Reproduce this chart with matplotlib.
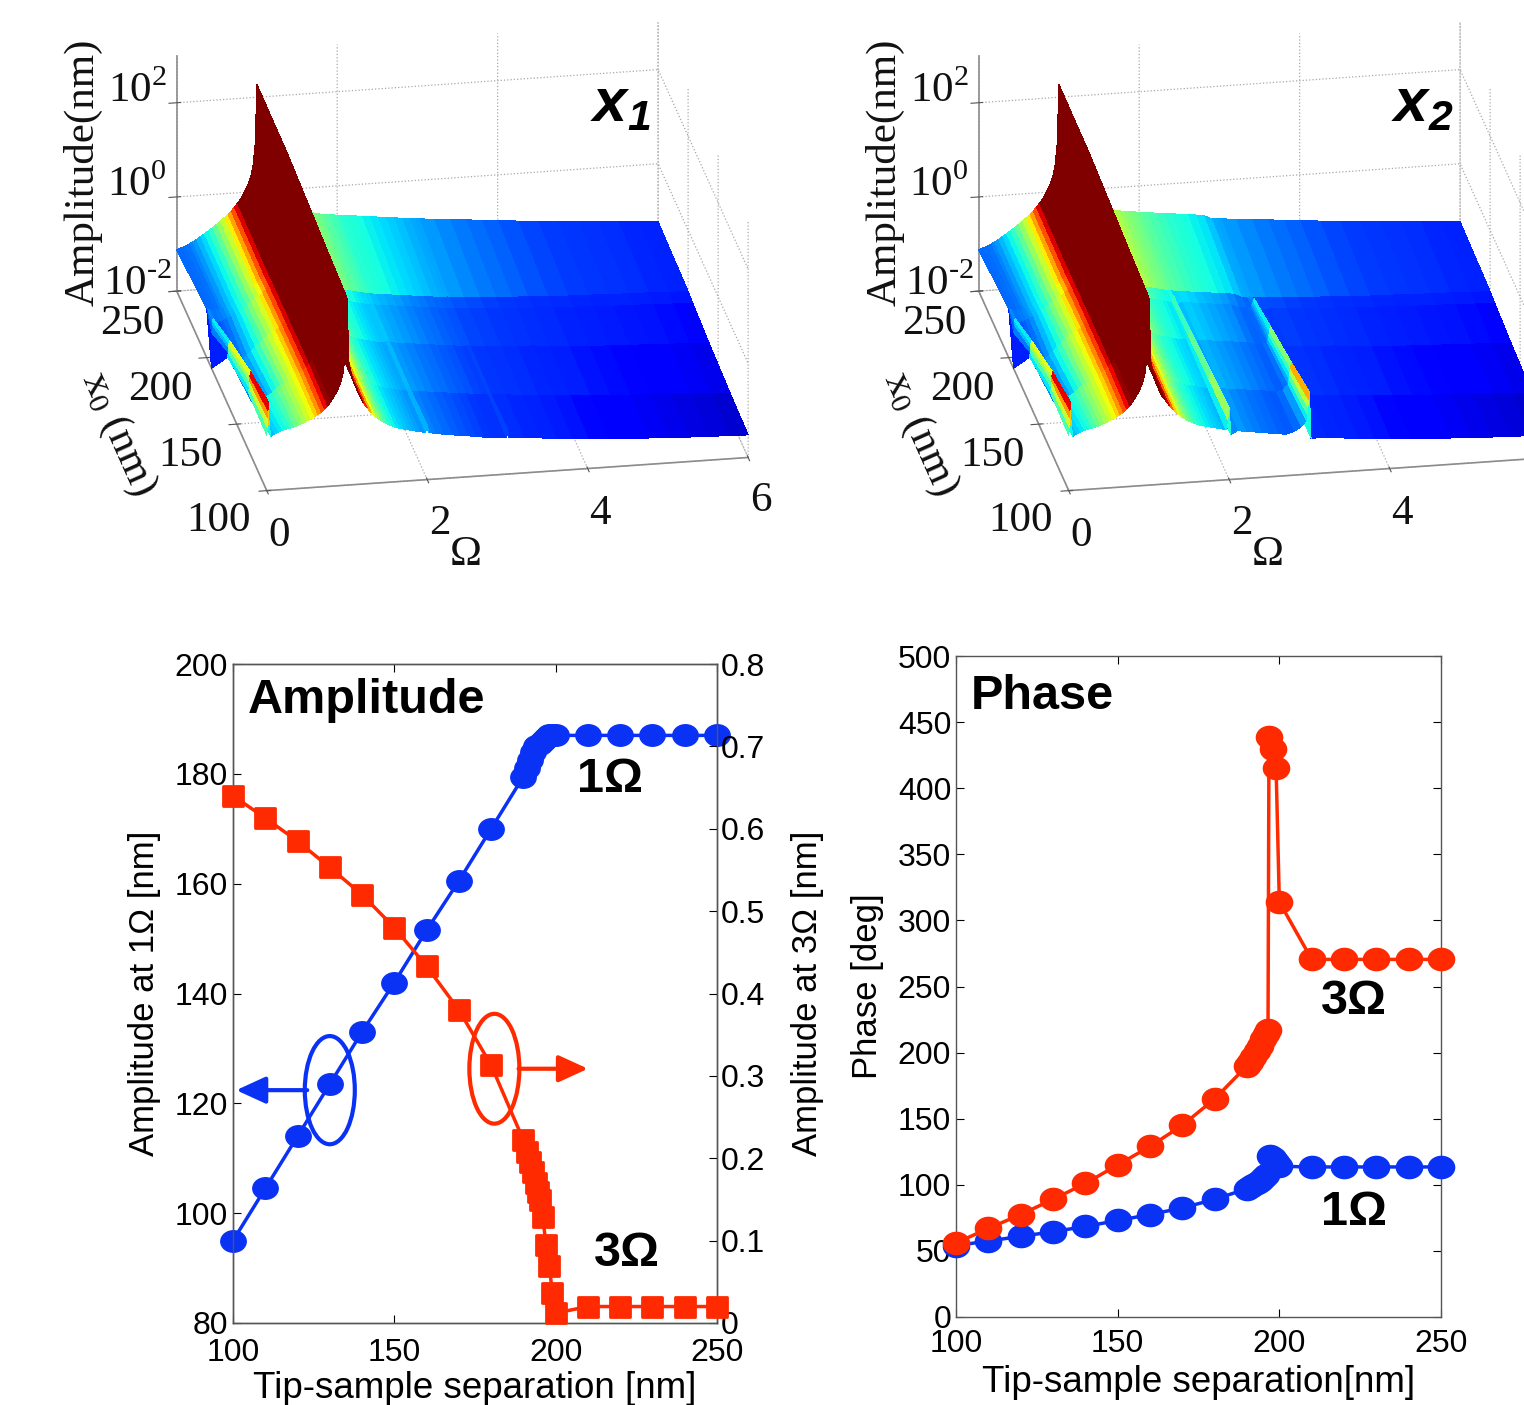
import numpy as np
import matplotlib
matplotlib.use('Agg')
import matplotlib.pyplot as plt
from matplotlib.markers import MarkerStyle
from matplotlib.patches import Ellipse
from matplotlib.transforms import Affine2D

W, H = 1524, 1405
plt.rcParams['font.family'] = ['Liberation Sans', 'DejaVu Sans']
plt.rcParams['mathtext.fontset'] = 'custom'
plt.rcParams['mathtext.rm'] = 'Liberation Serif'
plt.rcParams['mathtext.bf'] = 'Liberation Sans:italic:bold'
plt.rcParams['grid.linestyle'] = ':'
plt.rcParams['grid.color'] = '#a8a8a8'
plt.rcParams['grid.linewidth'] = 0.9

# --- surface readings: log10(amplitude) against drive frequency and x0
x0_rows = [250, 200, 192, 165, 130, 100]
omega = [0, .005, .01, .015, .02, .03, .05,
         .1, .15, .2, .25, .3, .35, .4, .45, .5, .55, .6, .64, .68, .72, .76, .8, .84, .88, .92, .95, .975, 1,
         1.025, 1.05, 1.08, 1.12, 1.16, 1.2, 1.25, 1.3, 1.35, 1.4, 1.45, 1.5, 1.55, 1.6, 1.65, 1.7, 1.75, 1.8, 1.85, 1.9,
         1.96, 1.98, 2, 2.02,
         2.1, 2.2, 2.3, 2.4, 2.5, 2.6, 2.7, 2.8, 2.9,
         2.96, 2.97, 2.98, 2.99, 3, 3.02,
         3.2, 3.4, 3.6, 3.8, 4, 4.25, 4.5, 4.75, 5, 5.25, 5.5, 5.75, 6]
z_250 = [-1.12, -1.12, -1.12, -1.11, -1.11, -1.10, -1.09,
         -1.06, -1.02, -.98, -.93, -.87, -.82, -.76, -.70, -.64, -.57, -.50, -.44, -.38, -.30, -.22, -.12, -.01, .13, .31, .55, .95, 2.27,
         1.2, .85, .6, .38, .2, .05, -.08, -.18, -.27, -.34, -.40, -.44, -.47, -.50, -.52, -.54, -.56, -.58, -.59, -.60,
         -.61, -.62, -.62, -.63,
         -.645, -.66, -.68, -.70, -.72, -.74, -.76, -.78, -.80,
         -.81, -.81, -.81, -.81, -.81, -.82,
         -.85, -.88, -.91, -.94, -.98, -1.01, -1.05, -1.08, -1.11, -1.14, -1.17, -1.20, -1.23]
z_200 = [-.97, -.97, -.98, -.98, -.98, -.99, -1.0,
         -1.0, -.99, -.98, -.94, -.90, -.85, -.80, -.74, -.68, -.62, -.55, -.49, -.42, -.34, -.26, -.16, -.04, .10, .28, .52, .92, 2.24,
         1.15, .78, .5, .25, .05, -.12, -.25, -.36, -.45, -.52, -.58, -.63, -.67, -.70, -.73, -.76, -.78, -.80, -.82, -.84,
         -.86, -.87, -.87, -.88,
         -.9, -.92, -.94, -.96, -.98, -1.0, -1.02, -1.04, -1.06,
         -1.07, -1.07, -1.07, -1.07, -1.06, -1.08,
         -1.10, -1.12, -1.14, -1.16, -1.18, -1.2, -1.22, -1.23, -1.25, -1.26, -1.27, -1.29, -1.30]
z_192 = [-2.0, -1.25, -1.08, -1.0, -.95, -1.02, -1.05,
         -1.03, -1.0, -.97, -.92, -.85, -.81, -.76, -.71, -.65, -.59, -.53, -.47, -.40, -.32, -.25, -.16, -.04, .10, .27, .5, .9, 2.22,
         1.1, .72, .45, .2, .0, -.16, -.29, -.4, -.48, -.55, -.61, -.66, -.7, -.73, -.76, -.78, -.8, -.82, -.84, -.86,
         -.88, -.88, -.86, -.89,
         -.91, -.93, -.95, -.97, -.99, -1.01, -1.03, -1.05, -1.07,
         -1.08, -1.08, -1.08, -1.08, -1.07, -1.09,
         -1.11, -1.13, -1.15, -1.17, -1.19, -1.21, -1.23, -1.25, -1.27, -1.28, -1.29, -1.31, -1.33]
z_165 = [-1.0, -.9, -.8, -.72, -.65, -1.0, -1.15,
         -1.13, -1.1, -1.05, -.98, -.9, -.83, -.74, -.67, -.61, -.56, -.5, -.44, -.38, -.31, -.24, -.15, -.04, .09, .26, .48, .85, 2.15,
         1.0, .62, .36, .13, -.06, -.22, -.35, -.45, -.54, -.61, -.67, -.72, -.76, -.79, -.82, -.84, -.86, -.88, -.9, -.91,
         -.92, -.92, -.88, -.93,
         -.95, -.97, -.99, -1.01, -1.03, -1.05, -1.07, -1.09, -1.11,
         -1.12, -1.12, -1.12, -1.12, -1.10, -1.13,
         -1.15, -1.17, -1.19, -1.21, -1.24, -1.27, -1.3, -1.32, -1.34, -1.35, -1.37, -1.39, -1.41]
z_130 = [-.78, -.65, -.52, -.42, -.32, -.8, -1.0,
         -.98, -.94, -.9, -.85, -.8, -.72, -.66, -.62, -.58, -.53, -.48, -.43, -.37, -.3, -.24, -.16, -.05, .07, .22, .42, .75, 2.05,
         .8, .5, .28, .08, -.1, -.25, -.38, -.48, -.57, -.64, -.7, -.75, -.79, -.82, -.85, -.87, -.89, -.91, -.93, -.95,
         -.96, -.96, -.88, -.97,
         -.99, -1.01, -1.03, -1.05, -1.07, -1.09, -1.11, -1.13, -1.15,
         -1.16, -1.16, -1.16, -1.16, -1.10, -1.17,
         -1.19, -1.22, -1.25, -1.28, -1.3, -1.33, -1.36, -1.38, -1.4, -1.42, -1.44, -1.46, -1.48]
z_100 = [-.82, -.65, -.45, -.3, -.12, -.6, -.85,
         -.8, -.77, -.74, -.72, -.7, -.68, -.65, -.62, -.58, -.54, -.5, -.46, -.41, -.35, -.29, -.2, -.1, .02, .17, .38, .7, 1.98,
         .6, .38, .2, .02, -.13, -.27, -.39, -.49, -.58, -.65, -.71, -.76, -.8, -.84, -.87, -.89, -.91, -.93, -.95, -.97,
         -.99, -.99, -.85, -1.0,
         -1.03, -1.06, -1.08, -1.11, -1.13, -1.15, -1.18, -1.2, -1.21,
         -1.22, -1.22, -1.22, -1.22, -1.05, -1.23,
         -1.25, -1.28, -1.31, -1.34, -1.36, -1.39, -1.42, -1.44, -1.46, -1.48, -1.49, -1.51, -1.52]

# x2 differs from x1 around the harmonics at 2 and 3 in the contact rows
omega_x2 = [1.96, 1.98, 2, 2.02, 2.8, 2.9, 2.96, 2.97, 2.98, 2.99, 3, 3.02]
x2_192 = [-.84, -.80, -.72, -.92, -1.03, -1.05, -1.03, -1.0, -.97, -.92, -.88, -1.14]
x2_165 = [-.86, -.78, -.66, -.96, -1.06, -1.08, -1.02, -.95, -.88, -.80, -.70, -1.18]
x2_130 = [-.90, -.74, -.56, -1.0, -1.08, -1.05, -.92, -.82, -.70, -.60, -.48, -1.21]
x2_100 = [-.94, -.72, -.47, -1.05, -1.08, -.98, -.85, -.72, -.58, -.42, -.26, -1.24]
x2_lift = 0.06  # x2 sits a little higher between the peak and 3

# jet level seen on the surface at a given log10(amplitude)
colour_z = [-2, -1.6, -1.45, -1.3, -1.15, -1.0, -.76, -.5, -.3, -.2]
colour_level = [0, .03, .09, .15, .18, .25, .40, .65, .9, 1.0]

omega_ticks = [0, 2, 4, 6]
x0_ticks = [100, 150, 200, 250]
logz_ticks = [-2, 0, 2]

# --- line charts
sep = [100, 110, 120, 130, 140, 150, 160, 170, 180, 190, 191, 192, 193, 194, 195, 196, 197, 198, 199, 200,
       210, 220, 230, 240, 250]
amp_1w = [95, 104.5, 114, 123.5, 133, 142, 151.5, 160.5, 170, 179.5, 181, 182.5, 184, 185, 185.5, 186, 186.5, 187, 187, 187,
          187, 187, 187, 187, 187]
sep_3w = [100, 110, 120, 130, 140, 150, 160, 170, 180, 190, 191, 192, 193, 194, 194.5, 195, 196, 197, 198, 199, 200,
          210, 220, 230, 240, 250]
amp_3w = [.64, .613, .585, .553, .52, .48, .433, .38, .313, .222, .208, .195, .183, .17, .159, .149, .129, .095, .069, .036, .012,
          .02, .02, .02, .02, .02]
phase_1w = [54, 57.5, 61, 64.5, 68.5, 73, 77.5, 82.5, 89, 97, 98, 100, 101, 103, 105, 107.5, 122, 120, 117, 114,
            113.5, 113.5, 113.5, 113.5, 113.5]
sep_ph3 = [100, 110, 120, 130, 140, 150, 160, 170, 180, 190, 191, 192, 193, 194, 195, 196, 196.5, 196.8, 198, 199, 200,
           210, 220, 230, 240, 250]
phase_3w = [56, 67, 77.5, 89, 101, 115, 129, 145, 165, 190, 193, 197, 201, 205, 210, 214, 217, 439, 430, 415, 314,
            270.5, 270.5, 270.5, 270.5, 270.5]

BLUE = '#0a32f5'
RED = '#ff2a00'
GREY = '#8c8c8c'

fig = plt.figure(figsize=(W / 100, H / 100), dpi=100)


def put(x, y, s, **kw):
    # text placed by picture pixel
    kw.setdefault('ha', 'center')
    kw.setdefault('va', 'center')
    return fig.text(x / W, 1 - y / H, s, **kw)


def surface_panel(dx, rows, name, show_six):
    ax = fig.add_axes([(85 + dx) / W, (H - 634) / H, 735 / W, 735 / H], projection='3d', proj_type='ortho')
    ax.patch.set_alpha(0)
    ax.computed_zorder = False
    ax.set_box_aspect((493, 523, 258))
    ax.view_init(elev=23, azim=-100)
    Om, X0 = np.meshgrid(omega, x0_rows)
    Z = np.array(rows)
    mid = (Z[:-1, :-1] + Z[:-1, 1:] + Z[1:, :-1] + Z[1:, 1:]) / 4
    colours = plt.cm.jet(np.interp(mid, colour_z, colour_level))
    # paint from the far side of the peaks to the near side
    cuts = [omega.index(v) for v in [6, 3, 2, 1, .02, 0]]
    for k in range(len(cuts) - 1):
        a, b = cuts[k + 1], cuts[k] + 1
        ax.plot_surface(Om[:, a:b], X0[:, a:b], Z[:, a:b], facecolors=colours[:, a:b - 1], rstride=1, cstride=1,
                        shade=False, linewidth=0, antialiased=False, zorder=k + 1)
    ax.set_xlim(0, 6)
    ax.set_ylim(100, 250)
    ax.set_zlim(-2, 3)
    ax.set_xticks(omega_ticks)
    ax.set_yticks(x0_ticks)
    ax.set_zticks(logz_ticks)
    ax.set_xticklabels([])
    ax.set_yticklabels([])
    ax.set_zticklabels([])
    for axis in (ax.xaxis, ax.yaxis, ax.zaxis):
        axis.set_pane_color((1, 1, 1, 0))
        axis.pane.set_edgecolor((1, 1, 1, 0))
        axis.line.set_color(GREY)
        axis.line.set_linewidth(1.2)
    ax.tick_params(colors='#555555')

    serif = dict(family='Liberation Serif', size=31, color='#111111')
    put(dx + 83, 172, 'Amplitude(nm)', rotation=90, **serif)
    for y, e in zip([91, 185, 284], ['$10^{2}$', '$10^{0}$', r'$10^{\text{-}2}$']):
        put(dx + 137, y, e, **serif)
    for (x, y), t in zip([(218, 521), (190, 456), (160, 390), (132, 324)], ['100', '150', '200', '250']):
        put(dx + x, y, t, **serif)
    for (x, y), t in zip([(279, 536), (440, 524), (600, 514), (761, 501)], ['0', '2', '4', '6']):
        if t == '6' and not show_six:
            continue
        put(dx + x, y, t, **serif)
    put(dx + 466, 555, 'Ω', **serif)
    put(dx + 118, 434, r'$\mathrm{x_0}$ (nm)', rotation=-66, **serif)
    put(dx + 620, 106, name, size=44, color='black')
    return ax


rows_x1 = [z_250, z_200, z_192, z_165, z_130, z_100]
rows_x2 = [list(r) for r in rows_x1]
for row in rows_x2:
    for j, om in enumerate(omega):
        if 1.16 < om < 2.9:
            row[j] += x2_lift
for row, patch in zip(rows_x2[2:], [x2_192, x2_165, x2_130, x2_100]):
    for om, val in zip(omega_x2, patch):
        row[omega.index(om)] = val

surface_panel(0, rows_x1, r'$\mathbf{x_1}$', True)
surface_panel(802, rows_x2, r'$\mathbf{x_2}$', False)

ell = Affine2D().scale(1.18, 1)
round_sq = MarkerStyle('s', joinstyle='round')

# --- amplitude chart
ax1 = fig.add_axes([233 / W, (H - 1323) / H, 484 / W, 659 / H])
ax1.plot(sep, amp_1w, '-', color=BLUE, lw=2.5, marker=MarkerStyle('o', transform=ell), ms=15.5, clip_on=False, zorder=3)
ax1.set_xlim(100, 250)
ax1.set_ylim(80, 200)
ax1.set_xticks([100, 150, 200, 250])
ax1.set_yticks([80, 100, 120, 140, 160, 180, 200])
ax1.tick_params(direction='in', length=6, width=0.8, labelsize=23, top=True, right=True)
ax1.tick_params(axis='x', pad=11)
ax1.set_ylabel('Amplitude at 1Ω [nm]', fontsize=25, labelpad=10)
ax1.set_xlabel('Tip-sample separation [nm]', fontsize=26.5, labelpad=2)
ax1.add_patch(Ellipse((130, 122.4), 15.5, 19.7, fill=False, ec=BLUE, lw=3, zorder=4))
ax1.add_patch(Ellipse((181, 126.3), 15.5, 20, fill=False, ec=RED, lw=3, zorder=4))
ax1.annotate('', xy=(101, 122.4), xytext=(123, 122.4),
             arrowprops=dict(arrowstyle='-|>,head_width=0.55,head_length=1.2', mutation_scale=15, color=BLUE, lw=3,
                             shrinkA=0, shrinkB=0))
ax1.annotate('', xy=(210, 126.3), xytext=(188.5, 126.3),
             arrowprops=dict(arrowstyle='-|>,head_width=0.55,head_length=1.2', mutation_scale=15, color=RED, lw=3,
                             shrinkA=0, shrinkB=0))
ax1.text(0.03, 0.945, 'Amplitude', transform=ax1.transAxes, fontsize=35, fontweight='bold', va='center')
ax1.text(216.8, 179, '1Ω', fontsize=35, fontweight='bold', ha='center', va='center', zorder=6)
ax1.text(222, 92.6, '3Ω', fontsize=35, fontweight='bold', ha='center', va='center', zorder=6)

ax1r = ax1.twinx()
ax1r.plot(sep_3w, amp_3w, '-', color=RED, lw=2.5, marker=round_sq, ms=14, mew=2, clip_on=False, zorder=3)
ax1r.set_ylim(0, 0.8)
ax1r.set_yticks([0, .1, .2, .3, .4, .5, .6, .7, .8])
ax1r.set_yticklabels(['0', '0.1', '0.2', '0.3', '0.4', '0.5', '0.6', '0.7', '0.8'])
ax1r.tick_params(direction='in', length=6, width=0.8, labelsize=23, pad=3)
ax1r.set_ylabel('Amplitude at 3Ω [nm]', fontsize=25, labelpad=18)

# --- phase chart
ax2 = fig.add_axes([956 / W, (H - 1317) / H, 485 / W, 661 / H])
ax2.plot(sep, phase_1w, '-', color=BLUE, lw=2.5, marker=MarkerStyle('o', transform=ell), ms=16, clip_on=False, zorder=3)
ax2.plot(sep_ph3, phase_3w, '-', color=RED, lw=2.5, marker=MarkerStyle('o', transform=ell), ms=16, clip_on=False, zorder=4)
ax2.set_xlim(100, 250)
ax2.set_ylim(0, 500)
ax2.set_xticks([100, 150, 200, 250])
ax2.set_yticks(np.arange(0, 501, 50))
ax2.tick_params(direction='in', length=6, width=0.8, labelsize=23, top=True, right=True)
ax2.tick_params(axis='x', pad=9)
ax2.set_ylabel('Phase [deg]', fontsize=25, labelpad=10)
ax2.set_xlabel('Tip-sample separation[nm]', fontsize=26.5, labelpad=4)
ax2.text(0.03, 0.938, 'Phase', transform=ax2.transAxes, fontsize=35, fontweight='bold', va='center')
ax2.text(223, 238.5, '3Ω', fontsize=35, fontweight='bold', ha='center', va='center')
ax2.text(223, 79, '1Ω', fontsize=35, fontweight='bold', ha='center', va='center')

for a in (ax1, ax1r, ax2):
    for s in a.spines.values():
        s.set_color('#555555')
        s.set_linewidth(1)

fig.savefig('out.png', dpi=100)
